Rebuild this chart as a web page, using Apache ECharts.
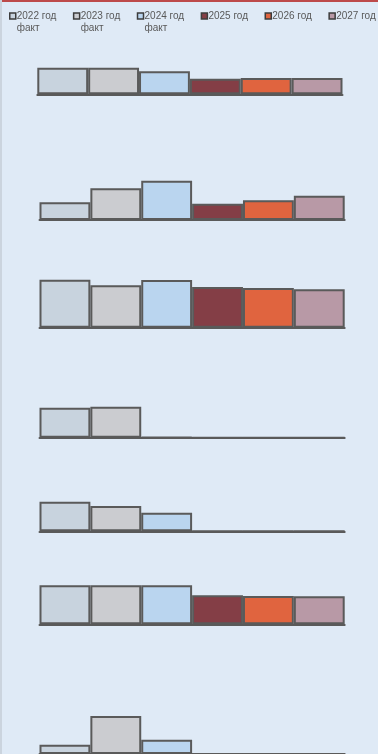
<!DOCTYPE html>
<html>
<head>
<meta charset="utf-8">
<script src="https://cdn.jsdelivr.net/npm/echarts@6/dist/echarts.min.js"></script>
<style>
html,body{margin:0;padding:0;background:#dfeaf6;}
#chart{width:378px;height:754px;}
</style>
</head>
<body>
<div id="chart"></div>
<script>
// Series (years) shown in the legend
const seriesNames = ['2022 год\nфакт', '2023 год\nфакт', '2024 год\nфакт', '2025 год', '2026 год', '2027 год'];
const seriesColors = ['#c8d3de', '#cbccd0', '#bad5ef', '#843e46', '#e0643f', '#b899a6'];
// One value per panel (7 stacked panels, top to bottom)
const values2022 = [26.6, 17.7, 48.0, 30.0, 29.6, 39.0, 9.3];
const values2023 = [26.6, 31.7, 42.4, 31.0, 25.3, 39.0, 38.0];
const values2024 = [23.0, 39.3, 47.7, 0.5, 18.6, 39.0, 14.3];
const values2025 = [15.6, 16.3, 40.7, 0, 0, 29.0, 0];
const values2026 = [16.3, 19.7, 39.7, 0, 0, 28.3, 0];
const values2027 = [16.3, 24.3, 38.4, 0, 0, 28.0, 0];
const seriesValues = [values2022, values2023, values2024, values2025, values2026, values2027];
const panelCategory = [''];

// layout of the 7 panels
const panelBaselines = [94.3, 220, 327.7, 437.7, 531.3, 624.3, 754];
const panelLefts = [37.3, 39.5, 39.5, 39.5, 39.5, 39.5, 39.5];
const panelHeight = 50;
const axisMax = 50;

const grids = [], xAxes = [], yAxes = [], series = [];
panelBaselines.forEach((b, g) => {
  grids.push({left: panelLefts[g], width: 305.2, top: b - panelHeight, height: panelHeight, containLabel: false});
  xAxes.push({
    type: 'category', gridIndex: g, data: panelCategory,
    axisLine: {show: true, lineStyle: {color: '#5a5a5a', width: 2}},
    axisTick: {show: false}, axisLabel: {show: false}, splitLine: {show: false}
  });
  yAxes.push({type: 'value', gridIndex: g, min: 0, max: axisMax, show: false, splitLine: {show: false}});
  seriesNames.forEach((name, s) => {
    series.push({
      type: 'bar', name: name, xAxisIndex: g, yAxisIndex: g,
      data: [seriesValues[s][g]],
      barGap: '0%', barCategoryGap: '0%',
      itemStyle: {color: seriesColors[s], borderColor: '#5a5a5a', borderWidth: 2},
      emphasis: {disabled: true},
      animation: false
    });
  });
});

const chart = echarts.init(document.getElementById('chart'), null, {renderer: 'canvas'});
chart.setOption({
  backgroundColor: '#dfeaf6',
  animation: false,
  legend: {
    left: 9, top: -2, padding: 0, itemGap: 16.5,
    itemWidth: 6, itemHeight: 6, icon: 'rect',
    itemStyle: {borderWidth: 1.5, borderColor: '#3c3c3c'},
    textStyle: {fontFamily: 'Liberation Sans', fontSize: 10, color: '#595959', lineHeight: 12, padding: [0, 0, 0, -4]},
    // two-line names get a leading empty line so the first line sits level with the marker
    formatter: name => name.indexOf('\n') >= 0 ? '\n' + name : name,
    data: seriesNames,
    selectedMode: false
  },
  grid: grids,
  xAxis: xAxes,
  yAxis: yAxes,
  series: series,
  graphic: [
    {type: 'rect', left: 0, top: 0, shape: {width: 378, height: 2}, style: {fill: '#bd4a4a'}, silent: true},
    {type: 'rect', left: 0, top: 0, shape: {width: 2, height: 754}, style: {fill: '#cbd4de'}, silent: true}
  ]
});
</script>
</body>
</html>
